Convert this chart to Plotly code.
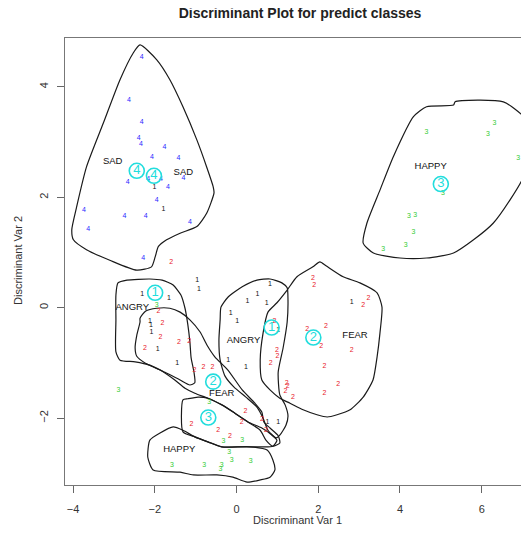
import plotly.graph_objects as go

# ---- data (discriminant scores) ----
# class 1 (ANGRY) points
x1 = [-2.01, -1.79, -2.31, -1.65, -0.96, -0.92, -2.12, -2.09, -2.08, -1.93, -1.45,
      -0.20, 0.23, 0.82, 0.51, 0.27, 0.74, -0.14, 0.02, 1.02, 2.82, 0.76, 1.02]
y1 = [2.19, 1.78, 0.24, 0.17, 0.50, 0.34, -0.25, -0.31, -0.44, -0.75, -1.01,
      -0.95, -1.08, 0.43, 0.25, 0.11, 0.08, -0.10, -0.25, -0.40, 0.09, -2.07, -2.07]
# class 2 (FEAR) points
x2 = [-1.60, -1.91, -1.81, -1.86, -1.41, -1.16, -2.24, -1.03, -0.81, -0.59, -1.10,
      -0.45, -0.16, 0.22, 0.13, 0.62, 0.72, 0.84, 0.99, 1.00, 0.93, 1.23, 1.25,
      1.20, 1.38, 1.87, 1.90, 3.23, 3.10, 1.73, 2.19, 2.07, 2.82, 2.15, 2.49, 2.15]
y2 = [0.82, -0.07, -0.29, -0.53, -0.63, -0.60, -0.74, -1.13, -1.08, -1.08, -2.11,
      -2.22, -2.32, -1.87, -2.08, -2.02, -2.22, -1.01, -0.77, -0.88, -0.24, -1.37, -1.42,
      -1.52, -1.63, 0.54, 0.41, 0.18, 0.04, -0.39, -0.33, -0.69, -0.77, -1.06, -1.38, -1.55]
# class 3 (HAPPY) points
x3 = [6.31, 6.15, 4.65, 6.89, 5.05, 4.22, 4.37, 4.33, 4.14, 3.59,
      -1.95, -2.89, -0.67, -0.32, 0.14, -0.18, -0.12, 0.35, -1.58, -0.79, -0.36, -0.39]
y3 = [3.34, 3.15, 3.17, 2.71, 2.08, 1.65, 1.68, 1.37, 1.13, 1.05,
      0.04, -1.49, -1.72, -2.42, -2.40, -2.61, -2.76, -2.78, -2.85, -2.86, -2.85, -2.93]
# class 4 (SAD) points
x4 = [-2.32, -2.63, -2.32, -2.39, -2.34, -1.76, -2.07, -1.42, -1.30, -1.85,
      -2.16, -2.66, -1.68, -1.95, -3.73, -2.74, -2.22, -1.14, -3.63, -2.28]
y4 = [4.54, 3.75, 3.36, 3.07, 2.97, 2.91, 2.72, 2.70, 2.34, 2.32,
      2.33, 2.27, 2.19, 1.94, 1.76, 1.66, 1.66, 1.54, 1.42, 0.90]

# group centroids
cen_x = [-2.44, -2.02, 5.00, -1.99, 0.86, -0.57, 1.88, -0.69]
cen_y = [2.48, 2.39, 2.24, 0.27, -0.36, -1.34, -0.54, -1.99]
cen_lab = ["4", "4", "3", "1", "1", "2", "2", "3"]

# region labels
reg_x = [-3.03, -1.30, 4.75, -1.40, -2.55, 0.17, 2.90, -0.36]
reg_y = [2.65, 2.45, 2.55, -2.57, 0.01, -0.59, -0.51, -1.55]
reg_lab = ["SAD", "SAD", "HAPPY", "HAPPY", "ANGRY", "ANGRY", "FEAR", "FEAR"]

# region outlines
sad_x = [-2.36, -1.95, -1.63, -1.31, -0.97, -0.73, -0.57, -0.55, -0.73, -0.97, -1.38, -1.71, -1.91,
         -1.99, -2.08, -2.44, -3.10, -3.67, -3.99, -4.03, -3.91, -3.67, -3.26, -2.85, -2.53, -2.36]
sad_y = [4.76, 4.49, 4.13, 3.64, 3.04, 2.55, 2.19, 2.08, 1.71, 1.47, 1.35, 1.23, 1.11,
         0.92, 0.74, 0.68, 0.86, 1.05, 1.23, 1.41, 1.83, 2.55, 3.34, 4.13, 4.61, 4.76]
happy_r_x = [5.35, 6.53, 7.02, 7.10, 7.10, 7.02, 6.69, 6.28, 5.80, 5.31, 4.65, 4.00, 3.35,
             3.10, 3.19, 3.51, 3.84, 4.33, 4.65, 5.31, 5.35]
happy_r_y = [3.73, 3.73, 3.46, 3.22, 2.74, 2.37, 1.95, 1.53, 1.23, 0.99, 0.90, 0.90, 0.99,
             1.17, 1.53, 2.13, 2.74, 3.46, 3.64, 3.67, 3.73]
angry_l_x = [-2.90, -2.68, -2.12, -1.82, -1.55, -1.36, -1.26, -1.19, -1.14, -1.11, -1.04, -1.02,
             -1.14, -1.38, -1.75, -2.12, -2.48, -2.85, -2.95, -2.95, -2.95, -2.90]
angry_l_y = [0.45, 0.50, 0.52, 0.50, 0.41, 0.23, -0.01, -0.31, -0.62, -0.91, -1.17, -1.36,
             -1.40, -1.31, -1.17, -1.04, -0.98, -0.95, -0.80, -0.22, 0.23, 0.45]
fear_l_x = [-2.36, -2.22, -1.95, -1.63, -1.38, -1.14, -0.89, -0.72, -0.53, -0.21, 0.14, 0.45, 0.62,
            0.67, 0.82, 1.02, 1.06, 0.89, 0.72, 0.58, 0.28, -0.04, -0.36, -0.70, -1.02, -1.26,
            -1.51, -1.87, -2.24, -2.44, -2.48, -2.44, -2.36, -2.36]
fear_l_y = [-0.19, -0.06, -0.01, -0.01, -0.08, -0.22, -0.44, -0.68, -0.89, -1.13, -1.49, -1.73, -1.89,
            -2.07, -2.18, -2.32, -2.45, -2.51, -2.40, -2.22, -2.07, -1.91, -1.76, -1.64, -1.55, -1.46,
            -1.31, -1.13, -1.00, -0.88, -0.73, -0.50, -0.26, -0.19]
happy_in_x = [-1.31, -1.19, -0.94, -0.70, -0.36, -0.04, 0.28, 0.62, 0.87, 0.99, 0.89, 0.53, 0.14,
              -0.36, -0.70, -1.02, -1.31, -1.31]
happy_in_y = [-1.67, -1.65, -1.62, -1.64, -1.76, -1.91, -2.07, -2.18, -2.31, -2.40, -2.51, -2.52, -2.52,
              -2.52, -2.43, -2.34, -2.25, -1.67]
happy_l_x = [-2.12, -1.87, -1.55, -1.31, -1.02, -0.70, -0.36, 0.33, 0.75, 0.89, 0.94, 0.82, 0.58,
             0.26, -0.09, -0.48, -1.06, -1.38, -2.04, -2.17, -2.12]
happy_l_y = [-2.40, -2.27, -2.16, -2.22, -2.34, -2.43, -2.52, -2.52, -2.58, -2.76, -2.94, -3.07, -3.12,
             -3.16, -3.07, -3.03, -3.03, -2.98, -2.94, -2.71, -2.40]
angry_m_x = [-0.38, -0.21, 0.14, 0.50, 0.82, 1.11, 1.24, 1.26, 1.24, 1.14, 1.02, 1.06, 1.19, 1.26,
             1.21, 1.06, 0.97, 0.77, 0.65, 0.50, 0.23, -0.06, -0.28, -0.40, -0.43, -0.40, -0.38]
angry_m_y = [0.01, 0.19, 0.38, 0.50, 0.52, 0.45, 0.36, 0.14, -0.26, -0.73, -1.17, -1.58, -1.76, -1.96,
             -2.13, -2.31, -2.36, -2.22, -2.00, -1.80, -1.62, -1.44, -1.24, -0.95, -0.59, -0.22, 0.01]
fear_r_x = [2.04, 2.19, 2.61, 3.02, 3.44, 3.56, 3.51, 3.44, 3.34, 3.10, 2.78, 2.46, 2.22, 1.97,
            1.63, 1.31, 1.06, 0.82, 0.62, 0.58, 0.65, 0.77, 0.99, 1.24, 1.48, 1.87, 2.04]
fear_r_y = [0.83, 0.76, 0.56, 0.45, 0.27, 0.01, -0.46, -0.89, -1.31, -1.62, -1.85, -1.94, -1.98, -1.94,
            -1.85, -1.73, -1.64, -1.49, -1.31, -0.95, -0.46, -0.08, 0.09, 0.32, 0.56, 0.74, 0.83]

x_ticks = [-4, -2, 0, 2, 4, 6]
y_ticks = [-2, 0, 2, 4]

fig = go.Figure()

outlines = [(sad_x, sad_y), (happy_r_x, happy_r_y), (angry_l_x, angry_l_y), (fear_l_x, fear_l_y),
            (happy_in_x, happy_in_y), (happy_l_x, happy_l_y), (angry_m_x, angry_m_y),
            (fear_r_x, fear_r_y)]
for ox, oy in outlines:
    fig.add_trace(go.Scatter(x=ox, y=oy, mode="lines",
                             line=dict(color="#1a1a1a", width=1.2, shape="spline", smoothing=0.6),
                             hoverinfo="skip"))

pt_font = "Liberation Sans Narrow, Arial Narrow, Liberation Sans, Arial"
for xs, ys, lab, col in [(x1, y1, "1", "#111111"), (x2, y2, "2", "#e8202a"),
                         (x3, y3, "3", "#33cc33"), (x4, y4, "4", "#2a2aff")]:
    fig.add_trace(go.Scatter(x=xs, y=ys, mode="text", text=[lab] * len(xs),
                             textfont=dict(color=col, size=7, family=pt_font)))

fig.add_trace(go.Scatter(x=cen_x, y=cen_y, mode="markers+text", text=cen_lab,
                         textposition="middle center",
                         marker=dict(symbol="circle-open", size=15, color="#22dddd",
                                     line=dict(width=1.6, color="#22dddd")),
                         textfont=dict(color="#22dddd", size=13, family="Liberation Sans, Arial")))

fig.add_trace(go.Scatter(x=reg_x, y=reg_y, mode="text", text=reg_lab,
                         textfont=dict(color="#111111", size=9.5, family=pt_font)))

# page body has an 8px margin, so the figure is drawn from (8, 8) in the window
W, H = 521, 542
fig.update_layout(
    width=W, height=H,
    margin=dict(l=57, r=0, t=30, b=65),
    paper_bgcolor="white", plot_bgcolor="white",
    showlegend=False,
    font=dict(family="Liberation Sans, Arial", color="#333333"),
    title=dict(text="<b>Discriminant Plot for predict classes</b>", x=292 / W, xref="container",
               xanchor="center", y=1, yref="container", yanchor="top",
               pad=dict(t=0, b=0, l=0, r=0),
               font=dict(size=14, color="#222222")),
    xaxis=dict(range=[-4.196, 7.157], tickvals=x_ticks, ticks="outside", ticklen=7,
               tickcolor="#666666", showline=True, linecolor="#777777", mirror=True,
               showgrid=False, zeroline=False, ticklabelstandoff=7,
               tickfont=dict(size=11, color="#333333")),
    yaxis=dict(range=[-3.212, 4.886], tickvals=y_ticks, ticks="outside", ticklen=7,
               tickcolor="#666666", showline=True, linecolor="#777777", mirror=False,
               showgrid=False, zeroline=False, tickangle=-90, ticklabelstandoff=5,
               tickfont=dict(size=11, color="#333333")),
    annotations=[
        dict(text="Discriminant Var 1", x=(297 - 65) / 464, xref="paper", y=(485 - 520) / 447,
             yref="paper", showarrow=False, font=dict(size=11, color="#333333"),
             xanchor="center", yanchor="middle"),
        dict(text="Discriminant Var 2", x=(18 - 65) / 464, y=(485 - 261) / 447,
             xref="paper", yref="paper", showarrow=False, textangle=-90,
             font=dict(size=11, color="#333333"), xanchor="center", yanchor="middle"),
    ],
)

fig.write_html("out.html")
